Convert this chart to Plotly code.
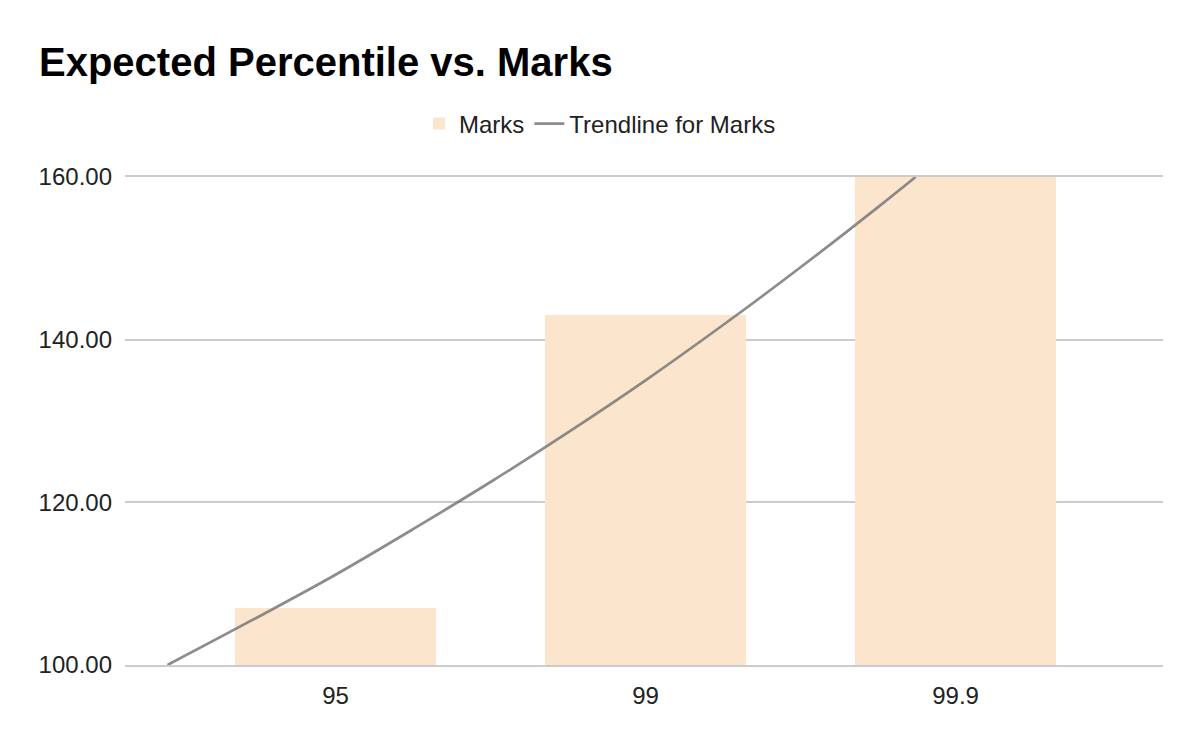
import plotly.graph_objects as go


# bar data
percentiles = ["95", "99", "99.9"]
marks = [107, 143, 160]

# trendline points (x in category positions 0, 1, 2)
trend_x = [-0.542, -0.25, 0.0, 0.25, 0.5, 0.75, 1.0, 1.25, 1.5, 1.75, 1.871]
trend_y = [100.0, 105.9, 111.1, 116.7, 122.5, 128.6, 135.0, 141.8, 148.9, 156.3, 160.0]

FONT = "Liberation Sans, Arial, sans-serif"

fig = go.Figure()

fig.add_trace(go.Bar(
    x=list(range(len(percentiles))),
    y=marks,
    name="Marks",
    width=0.648,
    marker=dict(color="#fce5cd", line=dict(width=0)),
))

fig.add_trace(go.Scatter(
    x=trend_x,
    y=trend_y,
    mode="lines",
    name="Trendline for Marks",
    line=dict(color="rgba(120,120,120,0.85)", width=2.7, shape="spline"),
))

# the page sits 8px in from the window edge, so everything is shifted back by 8px
fig.update_layout(
    width=1200,
    height=742,
    paper_bgcolor="white",
    plot_bgcolor="white",
    margin=dict(l=117, r=45, t=169, b=85),
    font=dict(family=FONT, size=24, color="#222222"),
    title=dict(
        text="<b>Expected Percentile vs. Marks</b>",
        font=dict(family=FONT, size=40, color="#000000"),
        xref="container", x=31 / 1200, xanchor="left",
        yref="container", y=1 - 54 / 742, yanchor="middle",
    ),
    legend=dict(
        orientation="h",
        xref="container", x=592 / 1200, xanchor="center",
        yref="container", y=1 - 116 / 742, yanchor="middle",
        font=dict(family=FONT, size=24, color="#222222"),
        itemwidth=30,
    ),
    showlegend=True,
    bargap=0,
)

# x axis lines (mirrored) stand in for the gridlines at 100 and 160
fig.update_xaxes(
    range=[-0.679, 2.669],
    tickmode="array",
    tickvals=list(range(len(percentiles))),
    ticktext=percentiles,
    showgrid=False,
    zeroline=False,
    showline=True,
    linecolor="#cccccc",
    linewidth=1.5,
    mirror=True,
    layer="below traces",
    ticks="",
    ticklabelstandoff=8,
)

fig.update_yaxes(
    range=[100, 160],
    tickvals=[100, 120, 140, 160],
    tickformat=".2f",
    showgrid=True,
    gridcolor="#cccccc",
    gridwidth=1.5,
    zeroline=False,
    showline=False,
    ticks="",
    ticklabelstandoff=12,
)

fig.write_html("out.html")
